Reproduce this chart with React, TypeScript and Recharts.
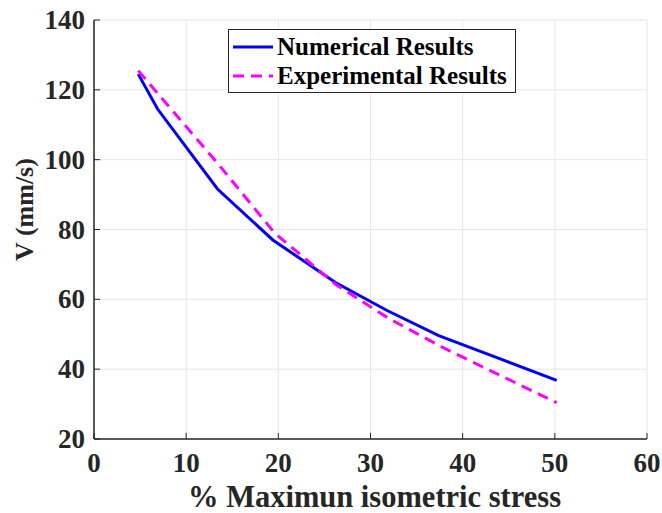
import React from "react";
import { LineChart, Line, XAxis, YAxis, CartesianGrid } from "recharts";

const numX = [4.8, 6.9, 13.4, 19.4, 26.2, 31.8, 37.4, 44.0, 50.2];
const numY = [124.5, 114.5, 91.6, 77.0, 64.8, 56.8, 49.6, 43.0, 36.8];
const expX = [4.8, 6.9, 13.4, 19.6, 26.2, 32.0, 38.0, 44.0, 50.2];
const expY = [125.5, 119.0, 99.0, 79.0, 64.3, 54.5, 46.0, 38.3, 30.4];
const xTicks = [0, 10, 20, 30, 40, 50, 60];
const yTicks = [20, 40, 60, 80, 100, 120, 140];
const seriesNames = ["Numerical Results", "Experimental Results"];
const xTitle = "% Maximun isometric stress";
const yTitle = "V (mm/s)";

const numData = numX.map((x, i) => ({ x, v: numY[i] }));
const expData = expX.map((x, i) => ({ x, v: expY[i] }));

const FONT = "'Liberation Serif', 'Times New Roman', serif";
const AX = "#262626";
const TL = 6;

const XTick = (p: any) => {
  const { x, y, payload } = p;
  return (
    <g>
      <line x1={payload.coordinate} x2={payload.coordinate} y1={y} y2={y - TL} stroke={AX} strokeWidth={1} />
      <text x={x} y={y} dy={33} textAnchor="middle" fontFamily={FONT} fontWeight="bold" fontSize={27} fill={AX}>
        {payload.value}
      </text>
    </g>
  );
};
const YTick = (p: any) => {
  const { x, y, payload } = p;
  return (
    <g>
      <line x1={x + 9} x2={x + 9 + TL} y1={payload.coordinate} y2={payload.coordinate} stroke={AX} strokeWidth={1} />
      <text x={x} y={y} dy={9} textAnchor="end" fontFamily={FONT} fontWeight="bold" fontSize={27} fill={AX}>
        {payload.value}
      </text>
    </g>
  );
};
const TopTick = (p: any) => {
  const { payload } = p;
  return <line x1={payload.coordinate} x2={payload.coordinate} y1={p.y} y2={p.y + TL} stroke={AX} strokeWidth={1} />;
};
const RightTick = (p: any) => {
  const { payload } = p;
  return <line x1={p.x} x2={p.x - TL} y1={payload.coordinate} y2={payload.coordinate} stroke={AX} strokeWidth={1} />;
};

const YLabel = (p: any) => {
  const vb = p.viewBox;
  const cx = 24;
  const cy = vb.y + vb.height / 2 - 20;
  return (
    <text x={cx} y={cy} transform={`rotate(-90 ${cx} ${cy})`} textAnchor="middle" dominantBaseline="central"
      fontFamily={FONT} fontWeight="bold" fontSize={26} fill={AX}>
      {yTitle}
    </text>
  );
};
const XLabel = (p: any) => {
  const vb = p.viewBox;
  return (
    <text x={vb.x + vb.width / 2 + 4} y={vb.y + 68} textAnchor="middle"
      fontFamily={FONT} fontWeight="bold" fontSize={30.5} fill={AX}>
      {xTitle}
    </text>
  );
};

const LegendBox = () => (
  <div style={{ position: "absolute", left: 228, top: 29, border: `1px solid ${AX}`, background: "#fff", width: 286, height: 62 }}>
    <svg width={286} height={62} style={{ display: "block" }}>
      <line x1={4} x2={44} y1={17} y2={17} stroke="#0000ff" strokeWidth={3} />
      <line x1={4} x2={44} y1={46} y2={46} stroke="#ff00ff" strokeWidth={3} strokeDasharray="11 7" />
      <text x={48} y={25} fontFamily={FONT} fontWeight="bold" fontSize={25} fill="#000">{seriesNames[0]}</text>
      <text x={48} y={54} fontFamily={FONT} fontWeight="bold" fontSize={25} fill="#000">{seriesNames[1]}</text>
    </svg>
  </div>
);

export default function App() {
  return (
    <div style={{ position: "absolute", left: 0, top: 0, width: 662, height: 513, background: "#fff" }}>
      <LineChart width={662} height={513} margin={{ top: 20, right: 15, left: 0, bottom: 0 }}>
        <CartesianGrid stroke="#e6e6e6" strokeWidth={1} xAxisId="b" yAxisId="l" />
        <XAxis xAxisId="b" dataKey="x" type="number" domain={[0, 60]} ticks={xTicks} height={74}
          stroke={AX} strokeWidth={1.5} tickLine={false} tickSize={0} tickMargin={0} tick={<XTick />}
          allowDataOverflow label={<XLabel />} />
        <XAxis xAxisId="t" orientation="top" type="number" domain={[0, 60]} ticks={xTicks} height={0}
          stroke={AX} strokeWidth={1.5} tickLine={false} tickSize={0} tickMargin={0} tick={<TopTick />} allowDataOverflow />
        <YAxis yAxisId="l" type="number" domain={[20, 140]} ticks={yTicks} width={94}
          stroke={AX} strokeWidth={1.5} tickLine={false} tickSize={0} tickMargin={9} tick={<YTick />}
          allowDataOverflow label={<YLabel />} />
        <YAxis yAxisId="r" orientation="right" type="number" domain={[20, 140]} ticks={yTicks} width={0}
          stroke={AX} strokeWidth={1.5} tickLine={false} tickSize={0} tickMargin={0} tick={<RightTick />} allowDataOverflow />
        <Line xAxisId="b" yAxisId="l" data={numData} dataKey="v" name={seriesNames[0]} stroke="#0000ff" strokeWidth={3}
          dot={false} isAnimationActive={false} />
        <Line xAxisId="b" yAxisId="l" data={expData} dataKey="v" name={seriesNames[1]} stroke="#ff00ff" strokeWidth={3}
          strokeDasharray="11 7" dot={false} isAnimationActive={false} />
      </LineChart>
      <LegendBox />
    </div>
  );
}
